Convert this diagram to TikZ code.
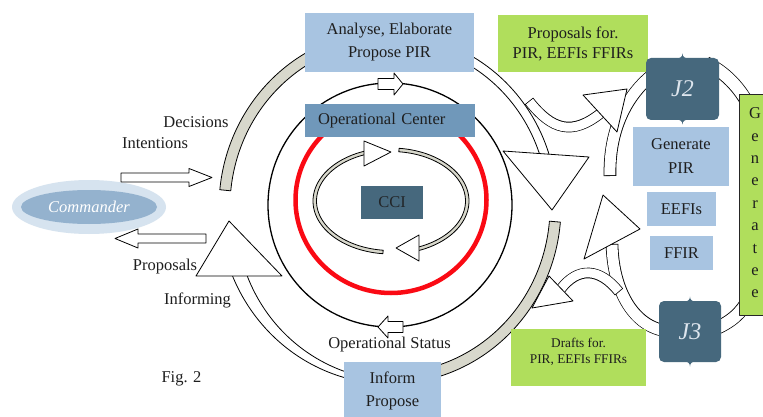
\documentclass[tikz,border=0pt]{standalone}
\usepackage{fontspec}
\setmainfont{Liberation Serif}
\usetikzlibrary{shapes.geometric}

\definecolor{boxblue}{RGB}{168,196,225}
\definecolor{opblue}{RGB}{112,152,186}
\definecolor{slate}{RGB}{70,104,125}
\definecolor{leaf}{RGB}{176,222,92}
\definecolor{bandgray}{RGB}{216,216,204}
\definecolor{haloblue}{RGB}{214,227,239}
\definecolor{cmdblue}{RGB}{148,178,206}
\definecolor{ringred}{RGB}{250,10,20}
\definecolor{ink}{RGB}{30,30,30}
\definecolor{pale}{RGB}{222,230,238}

% band along the outer ring (ellipse centre (390,207), radii 168/174);
% #1,#2 angles, #3/#4 outer offset at start/end, #5/#6 inner offset, #7 style
\newcommand\ringband[7]{%
  \draw[#7] plot[domain=#1:#2,samples=60] ({390+(168+(#3)+((#4)-(#3))*(\x-(#1))/((#2)-(#1)))*cos(\x)},{207+(174+(#3)+((#4)-(#3))*(\x-(#1))/((#2)-(#1)))*sin(\x)})
  -- plot[domain=#2:#1,samples=60] ({390+(168+(#5)+((#6)-(#5))*(\x-(#1))/((#2)-(#1)))*cos(\x)},{207+(174+(#5)+((#6)-(#5))*(\x-(#1))/((#2)-(#1)))*sin(\x)})
  -- cycle;}

% thin band around the CCI loop
\newcommand\ccband[3]{%
  \draw[#3] plot[domain=#1:#2,samples=60] ({391+78*cos(\x)},{201+53*sin(\x)})
  -- plot[domain=#2:#1,samples=60] ({391+74.5*cos(\x)},{201+49.5*sin(\x)}) -- cycle;}

% hollow tube along a curve: #1 core width, #2 total width, #3 path
\newcommand\tube[3]{%
  \draw[line width=#2pt] #3;
  \draw[white, line width=#1pt, shorten <=0.8pt, shorten >=0.8pt] #3;}

\begin{document}
\begin{tikzpicture}[x=1pt,y=-1pt,line join=round,
  outline/.style={draw=black, line width=0.8pt, fill=white},
  grayband/.style={draw=black, line width=0.8pt, fill=bandgray},
  boxtext/.style={inner sep=0pt, align=center, text=ink, font=\fontsize{16.5}{23}\selectfont},
  lbl/.style={inner sep=0pt, text=ink, font=\fontsize{16.5}{20}\selectfont},
  jbox/.style={fill=slate, rounded corners=5pt, inner sep=0pt, text=pale, font=\fontsize{24}{28}\selectfont\itshape}]

\useasboundingbox (0,0) rectangle (763,417);
\fill[white] (0,0) rectangle (763,417);

% ---- outer cycle ----
\ringband{185.6}{245}{3}{3}{-8}{-8}{grayband}
\ringband{292}{345}{-1}{-1}{-10}{-10}{outline}
\ringband{4.9}{80}{3}{3}{-8}{-8}{grayband}
\ringband{100}{158}{3}{3}{-2}{-11}{outline}
\draw[outline] (503,151) -- (589,157) -- (552,210) -- cycle;
\draw[outline] (196,276) -- (282,276) -- (229,221) -- cycle;

% ---- J2 / J3 loop ----
\tube{11}{12.6}{(668,331) .. controls (635,328) and (613,292) .. (612,244)}
\draw[outline] (603,195) -- (640,229) -- (584,259) -- cycle;
\tube{11}{12.6}{(610,176) .. controls (609,132) and (625,95) .. (656,72)}
\tube{12}{13.6}{(706,63) .. controls (725,72) and (740,88) .. (749,106)}
\tube{12}{13.6}{(749,298) .. controls (742,312) and (732,322) .. (712,330)}

% proposals towards J2
\tube{9}{10.6}{(529,101) .. controls (552,130) and (572,136) .. (601,113)}
\draw[outline] (583,95) -- (627,89) -- (617,132) -- cycle;
% drafts from J3
\tube{9}{10.6}{(619,292) .. controls (600,268) and (578,266) .. (560,290)}
\draw[outline] (549,276) -- (532,308) -- (573,301) -- cycle;

% ---- operational centre ----
\draw[line width=1.3pt] (390,205) circle[radius=122pt];
\draw[outline] (378,78.5) -- (394,78.5) -- (394,73) -- (403,84) -- (394,95) -- (394,89.5) -- (378,89.5) -- cycle;
\draw[outline] (403,321.5) -- (388,321.5) -- (388,316) -- (378,327) -- (388,338) -- (388,332.5) -- (403,332.5) -- cycle;
\draw[ringred, line width=4.5pt] (391,200) ellipse[x radius=95.5pt, y radius=93pt];

% CCI loop
\ccband{276}{431}{grayband}
\draw[outline] (419,235) -- (419,261) -- (396,248) -- cycle;
\ccband{96}{251}{grayband}
\draw[outline] (364,141) -- (364,166) -- (391,152) -- cycle;

% ---- boxes ----
\node[boxtext, fill=boxblue, minimum width=169pt, minimum height=59pt] (ana) at (389.5,42.5) {Analyse, Elaborate\\Propose PIR};
\node[boxtext, fill=opblue, text width=144pt, inner xsep=13pt, minimum height=33pt, align=left] (opc) at (390,120.5) {Operational Center};
\node[boxtext, fill=slate, minimum width=62pt, minimum height=33pt, text=ink!90!slate] (cci) at (392,202.5) {CCI};
\node[boxtext, fill=leaf, minimum width=150pt, minimum height=57pt, font=\fontsize{16.5}{20}\selectfont] (prop) at (573,43.5) {Proposals for.\\PIR, EEFIs FFIRs};
\node[boxtext, fill=boxblue, minimum width=96pt, minimum height=59pt, font=\fontsize{16.5}{24}\selectfont] (gen) at (681,156.5) {Generate\\PIR};
\node[boxtext, fill=boxblue, minimum width=69pt, minimum height=34pt] (eefi) at (681.5,209) {EEFIs};
\node[boxtext, fill=boxblue, minimum width=63pt, minimum height=34pt] (ffir) at (681.5,253) {FFIR};
\node[boxtext, fill=leaf, minimum width=135pt, minimum height=57pt] (drafts) at (578.5,357.5) {};
\node[boxtext, font=\fontsize{13.3}{16}\selectfont] (draftstxt) at (578.5,351.5) {Drafts for.\\PIR, EEFIs FFIRs};
\node[boxtext, fill=boxblue, minimum width=97pt, minimum height=58pt] (inform) at (392.5,391) {Inform\\Propose};

% J2 and J3 plaques
\node[jbox, minimum width=73pt, minimum height=62pt] (j2) at (682.5,89) {J2};
\fill[slate] (675,59) .. controls (680,58.5) and (682.5,57) .. (682.5,53.5) .. controls (682.5,57) and (685,58.5) .. (690,59) -- cycle;
\fill[slate] (675,119) .. controls (680,119.5) and (682.5,121) .. (682.5,124.5) .. controls (682.5,121) and (685,119.5) .. (690,119) -- cycle;
\node[jbox, minimum width=62pt, minimum height=61pt] (j3) at (690,331.5) {J3};
\fill[slate] (683,302) .. controls (688,301.5) and (690,300) .. (690,296.5) .. controls (690,300) and (692,301.5) .. (697,302) -- cycle;
\fill[slate] (683,361) .. controls (688,361.5) and (690,363) .. (690,366.5) .. controls (690,363) and (692,361.5) .. (697,361) -- cycle;

% vertical Generate bar
\node[draw=black!85, line width=1pt, fill=leaf, minimum width=36pt, minimum height=220pt, inner sep=0pt] (genbar) at (757,205) {};
\node[boxtext, font=\fontsize{16.5}{22.4}\selectfont] (genbartxt) at (755,203) {G\\e\\n\\e\\r\\a\\t\\e\\e};

% ---- commander ----
\node[ellipse, fill=haloblue, minimum width=154pt, minimum height=54pt, inner sep=0pt] (cmdhalo) at (89,207) {};
\node[ellipse, fill=cmdblue, minimum width=136pt, minimum height=34pt, inner sep=0pt, text=white, font=\fontsize{16.5}{20}\selectfont\itshape] (cmd) at (89,207) {Commander};

% block arrows to and from the commander
\draw[outline] (121,173) -- (189,173) -- (189,168.5) -- (212,177.5) -- (189,186.5) -- (189,182) -- (121,182) -- cycle;
\draw[outline] (206,234) -- (138,234) -- (138,229) -- (115,238.5) -- (138,248) -- (138,243) -- (206,243) -- cycle;

% ---- free labels ----
\node[lbl] (decis) at (196,122) {Decisions};
\node[lbl] (inten) at (155,143) {Intentions};
\node[lbl] (propl) at (165,267) {Proposals};
\node[lbl] (infor) at (197.5,300) {Informing};
\node[lbl] (fig) at (181.5,379) {Fig. 2};
\node[lbl] (opstat) at (389.5,345) {Operational Status};

\end{tikzpicture}
\end{document}
